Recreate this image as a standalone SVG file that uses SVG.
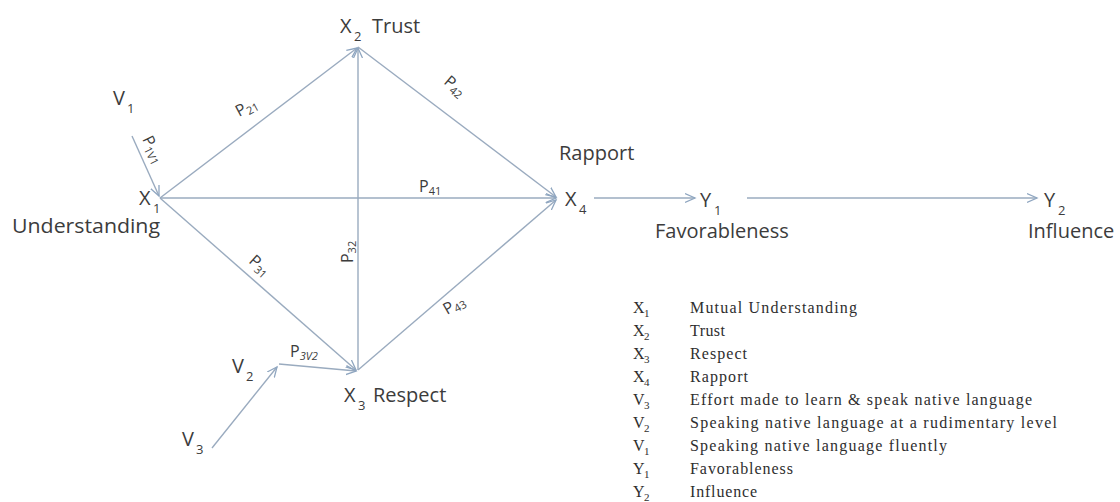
<svg xmlns="http://www.w3.org/2000/svg" width="1120" height="502" viewBox="0 0 1120 502">
<defs>
<marker id="ah" markerUnits="userSpaceOnUse" markerWidth="12" markerHeight="12" refX="10" refY="5" orient="auto" viewBox="0 0 12 10">
<path d="M0,0.5 L10,5 L0,9.5" fill="none" stroke="#8fa6c0" stroke-width="1.3"/>
</marker>
<style>
.ln{stroke:#9aabbf;stroke-width:1.4;fill:none;marker-end:url(#ah)}
.t{font-family:"Open Sans","Liberation Sans",sans-serif;font-size:20px;fill:#3c3c3c}
.s{font-family:"Open Sans","Liberation Sans",sans-serif;font-size:13px;fill:#3c3c3c}
.p{font-family:"Open Sans","Liberation Sans",sans-serif;font-size:16px;fill:#3c3c3c}
.ps{font-size:11px}
.lg{font-family:"Liberation Serif","Times New Roman",serif;font-size:16px;fill:#2e2e2e}
.lgs{font-family:"Liberation Serif","Times New Roman",serif;font-size:11px;fill:#2e2e2e}
</style>
</defs>
<rect width="1120" height="502" fill="#ffffff"/>
<g id="connectors">
<line class="ln" x1="160" y1="198" x2="357" y2="48"/>
<line class="ln" x1="358" y1="370" x2="358" y2="48"/>
<line class="ln" x1="358" y1="47" x2="556" y2="197"/>
<line class="ln" x1="160" y1="198" x2="556" y2="198"/>
<line class="ln" x1="358" y1="370" x2="556" y2="200"/>
<line class="ln" x1="160" y1="198" x2="356" y2="370"/>
<line class="ln" x1="132" y1="136" x2="159" y2="196"/>
<line class="ln" x1="212" y1="448" x2="277" y2="367"/>
<line class="ln" x1="279" y1="364" x2="356" y2="371"/>
<line class="ln" x1="594" y1="198" x2="695" y2="198"/>
<line class="ln" x1="747" y1="198" x2="1037" y2="198"/>
<text class="p" transform="translate(239,117) rotate(-28)">P<tspan class="ps" dy="3">21</tspan></text>
<text class="p" transform="translate(443,83) rotate(40)">P<tspan class="ps" dy="3">42</tspan></text>
<text class="p" x="419" y="192">P<tspan class="ps" dy="3">41</tspan></text>
<text class="p" transform="translate(353,263) rotate(-90)">P<tspan class="ps" dy="3">32</tspan></text>
<text class="p" transform="translate(248,262) rotate(42)">P<tspan class="ps" dy="3">31</tspan></text>
<text class="p" transform="translate(447,315) rotate(-30)">P<tspan class="ps" dy="3">43</tspan></text>
<text class="p" transform="translate(142,139) rotate(64)">P<tspan class="ps" dy="3">1V1</tspan></text>
<text class="p" x="290" y="357">P<tspan class="ps" dy="3" font-style="italic">3V2</tspan></text>
</g>
<g id="X1"><text class="t" x="139" y="205">X</text><text class="s" x="153" y="213">1</text><text class="t" x="12" y="233" textLength="148" lengthAdjust="spacingAndGlyphs">Understanding</text></g>
<g id="X2"><text class="t" x="340" y="33">X</text><text class="s" x="354" y="41">2</text><text class="t" x="372" y="33">Trust</text></g>
<g id="X3"><text class="t" x="344" y="402">X</text><text class="s" x="358" y="410">3</text><text class="t" x="373" y="402">Respect</text></g>
<g id="X4"><text class="t" x="565" y="206">X</text><text class="s" x="579" y="214">4</text><text class="t" x="559" y="160">Rapport</text></g>
<g id="V1"><text class="t" x="113" y="105">V</text><text class="s" x="127" y="113">1</text></g>
<g id="V2"><text class="t" x="232" y="373">V</text><text class="s" x="246" y="381">2</text></g>
<g id="V3"><text class="t" x="182" y="446">V</text><text class="s" x="196" y="454">3</text></g>
<g id="Y1"><text class="t" x="700" y="207">Y</text><text class="s" x="714" y="215">1</text><text class="t" x="655" y="238">Favorableness</text></g>
<g id="Y2"><text class="t" x="1044" y="207">Y</text><text class="s" x="1058" y="215">2</text><text class="t" x="1028" y="238">Influence</text></g>
<g id="legend">
<text class="lg" x="633" y="313">X</text><text class="lgs" x="644" y="317">1</text><text class="lg" x="690" y="313" textLength="167">Mutual Understanding</text>
<text class="lg" x="633" y="336">X</text><text class="lgs" x="644" y="340">2</text><text class="lg" x="690" y="336" textLength="35">Trust</text>
<text class="lg" x="633" y="359">X</text><text class="lgs" x="644" y="363">3</text><text class="lg" x="690" y="359" textLength="57">Respect</text>
<text class="lg" x="633" y="382">X</text><text class="lgs" x="644" y="386">4</text><text class="lg" x="690" y="382" textLength="58">Rapport</text>
<text class="lg" x="633" y="405">V</text><text class="lgs" x="644" y="409">3</text><text class="lg" x="690" y="405" textLength="342">Effort made to learn &amp; speak native language</text>
<text class="lg" x="633" y="428">V</text><text class="lgs" x="644" y="432">2</text><text class="lg" x="690" y="428" textLength="367">Speaking native language at a rudimentary level</text>
<text class="lg" x="633" y="451">V</text><text class="lgs" x="644" y="455">1</text><text class="lg" x="690" y="451" textLength="257">Speaking native language fluently</text>
<text class="lg" x="633" y="474">Y</text><text class="lgs" x="644" y="478">1</text><text class="lg" x="690" y="474" textLength="103">Favorableness</text>
<text class="lg" x="633" y="497">Y</text><text class="lgs" x="644" y="501">2</text><text class="lg" x="690" y="497" textLength="67">Influence</text>
</g>
</svg>
